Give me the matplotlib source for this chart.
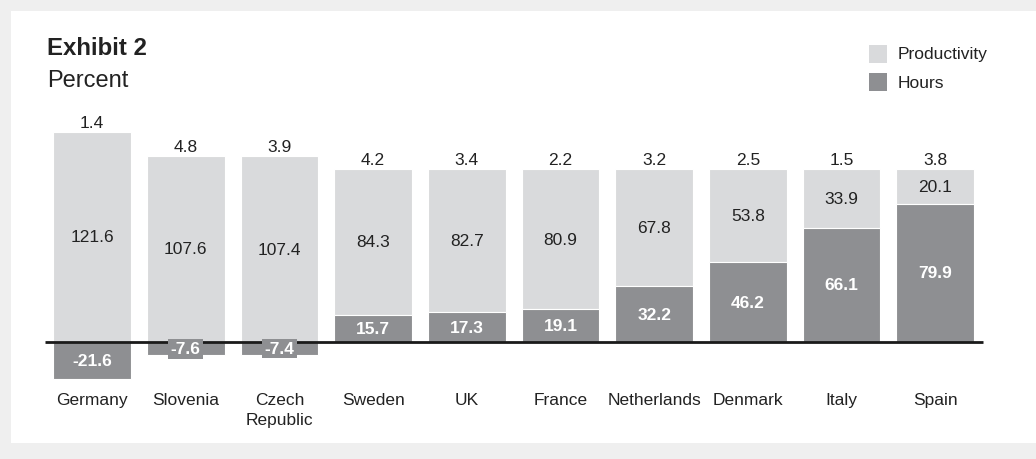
import matplotlib.pyplot as plt
from matplotlib.patches import Rectangle

plt.rcParams['font.family'] = ['Liberation Sans', 'DejaVu Sans']

countries = ['Germany', 'Slovenia', 'Czech\nRepublic', 'Sweden', 'UK', 'France',
             'Netherlands', 'Denmark', 'Italy', 'Spain']
productivity = [121.6, 107.6, 107.4, 84.3, 82.7, 80.9, 67.8, 53.8, 33.9, 20.1]
hours = [-21.6, -7.6, -7.4, 15.7, 17.3, 19.1, 32.2, 46.2, 66.1, 79.9]
top_labels = ['1.4', '4.8', '3.9', '4.2', '3.4', '2.2', '3.2', '2.5', '1.5', '3.8']
legend_labels = ['Productivity', 'Hours']

prod_color = '#d9dadc'
hours_color = '#8e8f92'
text_color = '#222222'
fs = 12.5

W, H = 1036, 460
fig = plt.figure(figsize=(W / 100, H / 100), dpi=100)
fig.patch.set_facecolor('#efefef')
# white panel behind everything
fig.patches.append(Rectangle((11 / W, 1 - 444 / H), 1.0, (444 - 12) / H,
                             transform=fig.transFigure, facecolor='white',
                             edgecolor='none', zorder=-5))

ax = fig.add_axes([0, 0, 1, 1])
ax.set_facecolor('none')
ax.axis('off')
ax.set_xlim(-0.982, 10.075)
ax.set_ylim(-67.6, 198.3)

x = list(range(len(countries)))
width = 0.83

# productivity sits on top of positive hours, starts at zero otherwise
prod_bottom = [h if h > 0 else 0 for h in hours]
ax.bar(x, productivity, width, bottom=prod_bottom, color=prod_color,
       edgecolor='white', linewidth=0.8, zorder=2)
ax.bar(x, hours, width, color=hours_color, edgecolor='white', linewidth=0.8, zorder=2)

ax.plot([-0.5, 9.51], [0, 0], color='#1a1a1a', linewidth=2, zorder=3,
        solid_capstyle='butt')

for i in x:
    p, h, b = productivity[i], hours[i], prod_bottom[i]
    ax.text(i, b + p / 2, '{:.1f}'.format(p), ha='center', va='center',
            fontsize=fs, color=text_color, zorder=4)
    box = None
    if abs(h) < 10:
        box = dict(boxstyle='square,pad=0.14', facecolor=hours_color, edgecolor='none')
    ax.text(i, h / 2, '{:.1f}'.format(h), ha='center', va='center',
            fontsize=fs, color='white', fontweight='bold', zorder=4, bbox=box)
    ax.annotate(top_labels[i], (i, b + p), xytext=(0, 1.5), textcoords='offset points',
                ha='center', va='bottom', fontsize=fs, color=text_color)
    ax.text(i, -28.8, countries[i], ha='center', va='top', fontsize=fs,
            color=text_color, linespacing=1.4)

fig.text(47 / W, 1 - 55 / H, 'Exhibit 2', fontsize=17.3, fontweight='bold',
         color=text_color, ha='left', va='baseline')
fig.text(47 / W, 1 - 87 / H, 'Percent', fontsize=17, color=text_color,
         ha='left', va='baseline')

# legend drawn by hand
for k, (lab, col) in enumerate(zip(legend_labels, [prod_color, hours_color])):
    top = 46 + 28.5 * k
    fig.patches.append(Rectangle((869 / W, 1 - (top + 17.5) / H), 17.5 / W, 17.5 / H,
                                 transform=fig.transFigure, facecolor=col,
                                 edgecolor='none'))
    fig.text(898 / W, 1 - (top + 9) / H, lab, fontsize=fs, color=text_color,
             ha='left', va='center')

fig.savefig('out.png', dpi=100, facecolor=fig.get_facecolor())
